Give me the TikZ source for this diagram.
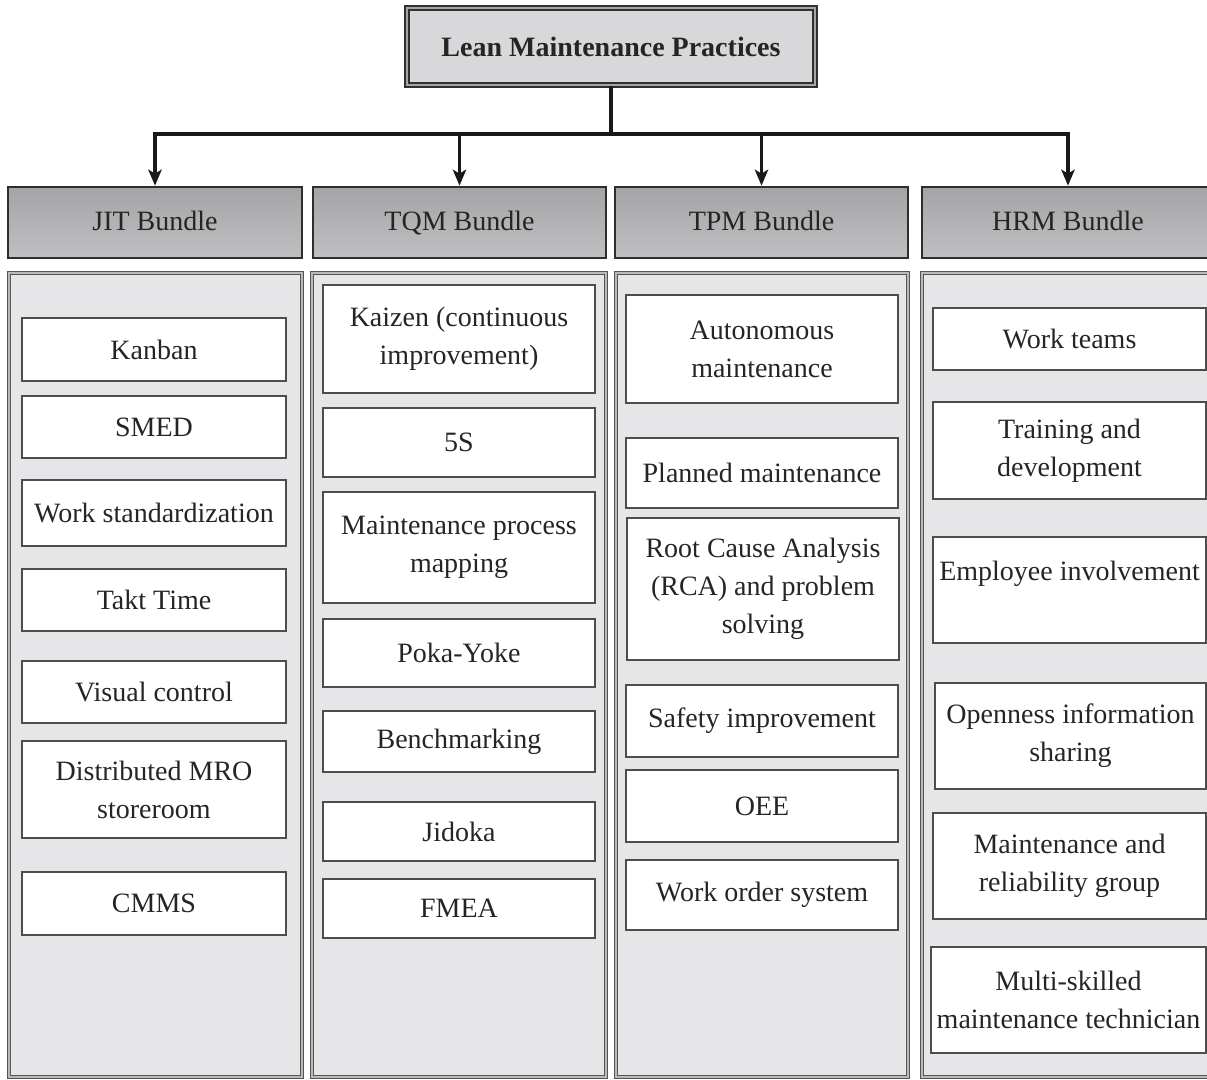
\documentclass[tikz,border=0pt]{standalone}
\usepackage{fontspec}
\setmainfont{Liberation Serif}
\usetikzlibrary{arrows.meta}
\definecolor{ink}{HTML}{252525}
\definecolor{titlefill}{HTML}{D8D8DA}
\definecolor{titleline}{HTML}{303030}
\definecolor{headtop}{HTML}{A4A4A6}
\definecolor{headbot}{HTML}{C0C0C2}
\definecolor{headline}{HTML}{2E2E2E}
\definecolor{panelfill}{HTML}{E6E6E8}
\definecolor{panelline}{HTML}{555555}
\definecolor{itemline}{HTML}{4D4D4D}
\newcommand\boxnode[7]{\node[#1, minimum width={(#5-#3)*0.75pt}, minimum height={(#6-#4)*0.75pt}] (#2) at ({(#3+#5)/2},{(#4+#6)/2}) {#7};}
\begin{document}
\begin{tikzpicture}[x=0.75pt,y=-0.75pt,
  txt/.style={font=\fontsize{21}{28.5}\selectfont, text=ink, align=center, inner sep=1pt},
  titlebox/.style={txt, font=\fontsize{21}{28.5}\selectfont\bfseries, fill=titlefill, draw=titleline, line width=1.9pt, double=gray!70, double distance=1.3pt},
  headbox/.style={txt, draw=headline, line width=2pt, top color=headtop, bottom color=headbot, text height=15pt, text depth=3pt},
  panel/.style={fill=panelfill, draw=panelline, line width=1.1pt, double=gray!55, double distance=1.2pt, inner sep=0pt},
  item/.style={txt, fill=white, draw=itemline, line width=1.5pt},
  conn/.style={draw=black!90, line width=2.5pt},
  arr/.style={conn, -{Stealth[length=12pt,width=10pt,inset=3pt]}}
]
\useasboundingbox (0,0) rectangle (1207,1080);
\clip (0,0) rectangle (1207,1080);
\fill[white] (0,0) rectangle (1207,1080);

% title
\boxnode{titlebox}{title}{407}{8}{815}{85}{Lean Maintenance Practices}

% headers
\boxnode{headbox}{jit}{8}{187}{302}{258}{JIT Bundle}
\boxnode{headbox}{tqm}{313}{187}{606}{258}{TQM Bundle}
\boxnode{headbox}{tpm}{615}{187}{908}{258}{TPM Bundle}
\boxnode{headbox}{hrm}{922}{187}{1214}{258}{HRM Bundle}

% panels
\boxnode{panel}{jitp}{9}{273}{302}{1077}{}
\boxnode{panel}{tqmp}{312}{273}{606}{1077}{}
\boxnode{panel}{tpmp}{616}{273}{908}{1077}{}
\boxnode{panel}{hrmp}{922}{273}{1216}{1077}{}

% JIT items
\boxnode{item}{kanban}{22}{318}{286}{381}{Kanban}
\boxnode{item}{smed}{22}{396}{286}{458}{SMED}
\boxnode{item}{workstd}{22}{480}{286}{546}{Work standardization}
\boxnode{item}{takt}{22}{569}{286}{631}{Takt Time}
\boxnode{item}{visual}{22}{661}{286}{723}{Visual control}
\boxnode{item}{mro}{22}{741}{286}{838}{Distributed MRO\\storeroom}
\boxnode{item}{cmms}{22}{872}{286}{935}{CMMS}

% TQM items
\boxnode{item}{kaizen}{323}{285}{595}{393}{Kaizen (continuous\\improvement)}
\boxnode{item}{fives}{323}{408}{595}{477}{5S}
\boxnode{item}{mapping}{323}{492}{595}{603}{Maintenance process\\mapping}
\boxnode{item}{poka}{323}{619}{595}{687}{Poka-Yoke}
\boxnode{item}{bench}{323}{711}{595}{772}{Benchmarking}
\boxnode{item}{jidoka}{323}{802}{595}{861}{Jidoka}
\boxnode{item}{fmea}{323}{879}{595}{938}{FMEA}

% TPM items
\boxnode{item}{auto}{626}{295}{898}{403}{Autonomous\\maintenance}
\boxnode{item}{planned}{626}{438}{898}{508}{Planned maintenance}
\boxnode{item}{rca}{627}{518}{899}{660}{Root Cause Analysis\\(RCA) and problem\\solving}
\boxnode{item}{safety}{626}{685}{898}{757}{Safety improvement}
\boxnode{item}{oee}{626}{770}{898}{842}{OEE}
\boxnode{item}{wos}{626}{860}{898}{930}{Work order system}

% HRM items
\boxnode{item}{teams}{933}{308}{1206}{370}{Work teams}
\boxnode{item}{training}{933}{402}{1206}{499}{Training and\\development}
\boxnode{item}{employee}{933}{537}{1206}{643}{Employee involvement\\[0pt]~}
\boxnode{item}{openness}{935}{683}{1206}{789}{Openness information\\sharing}
\boxnode{item}{mr}{933}{813}{1206}{919}{Maintenance and\\reliability group}
\boxnode{item}{multi}{931}{947}{1206}{1053}{Multi-skilled\\maintenance technician}

% connectors
\coordinate (hub) at (611,134);
\draw[conn] (title.south) -- (hub);
\draw[arr] (hub) -| (jit.north);
\draw[arr] (hub) -| (tqm.north);
\draw[arr] (hub) -| (tpm.north);
\draw[arr] (hub) -| (hrm.north);
\end{tikzpicture}
\end{document}
